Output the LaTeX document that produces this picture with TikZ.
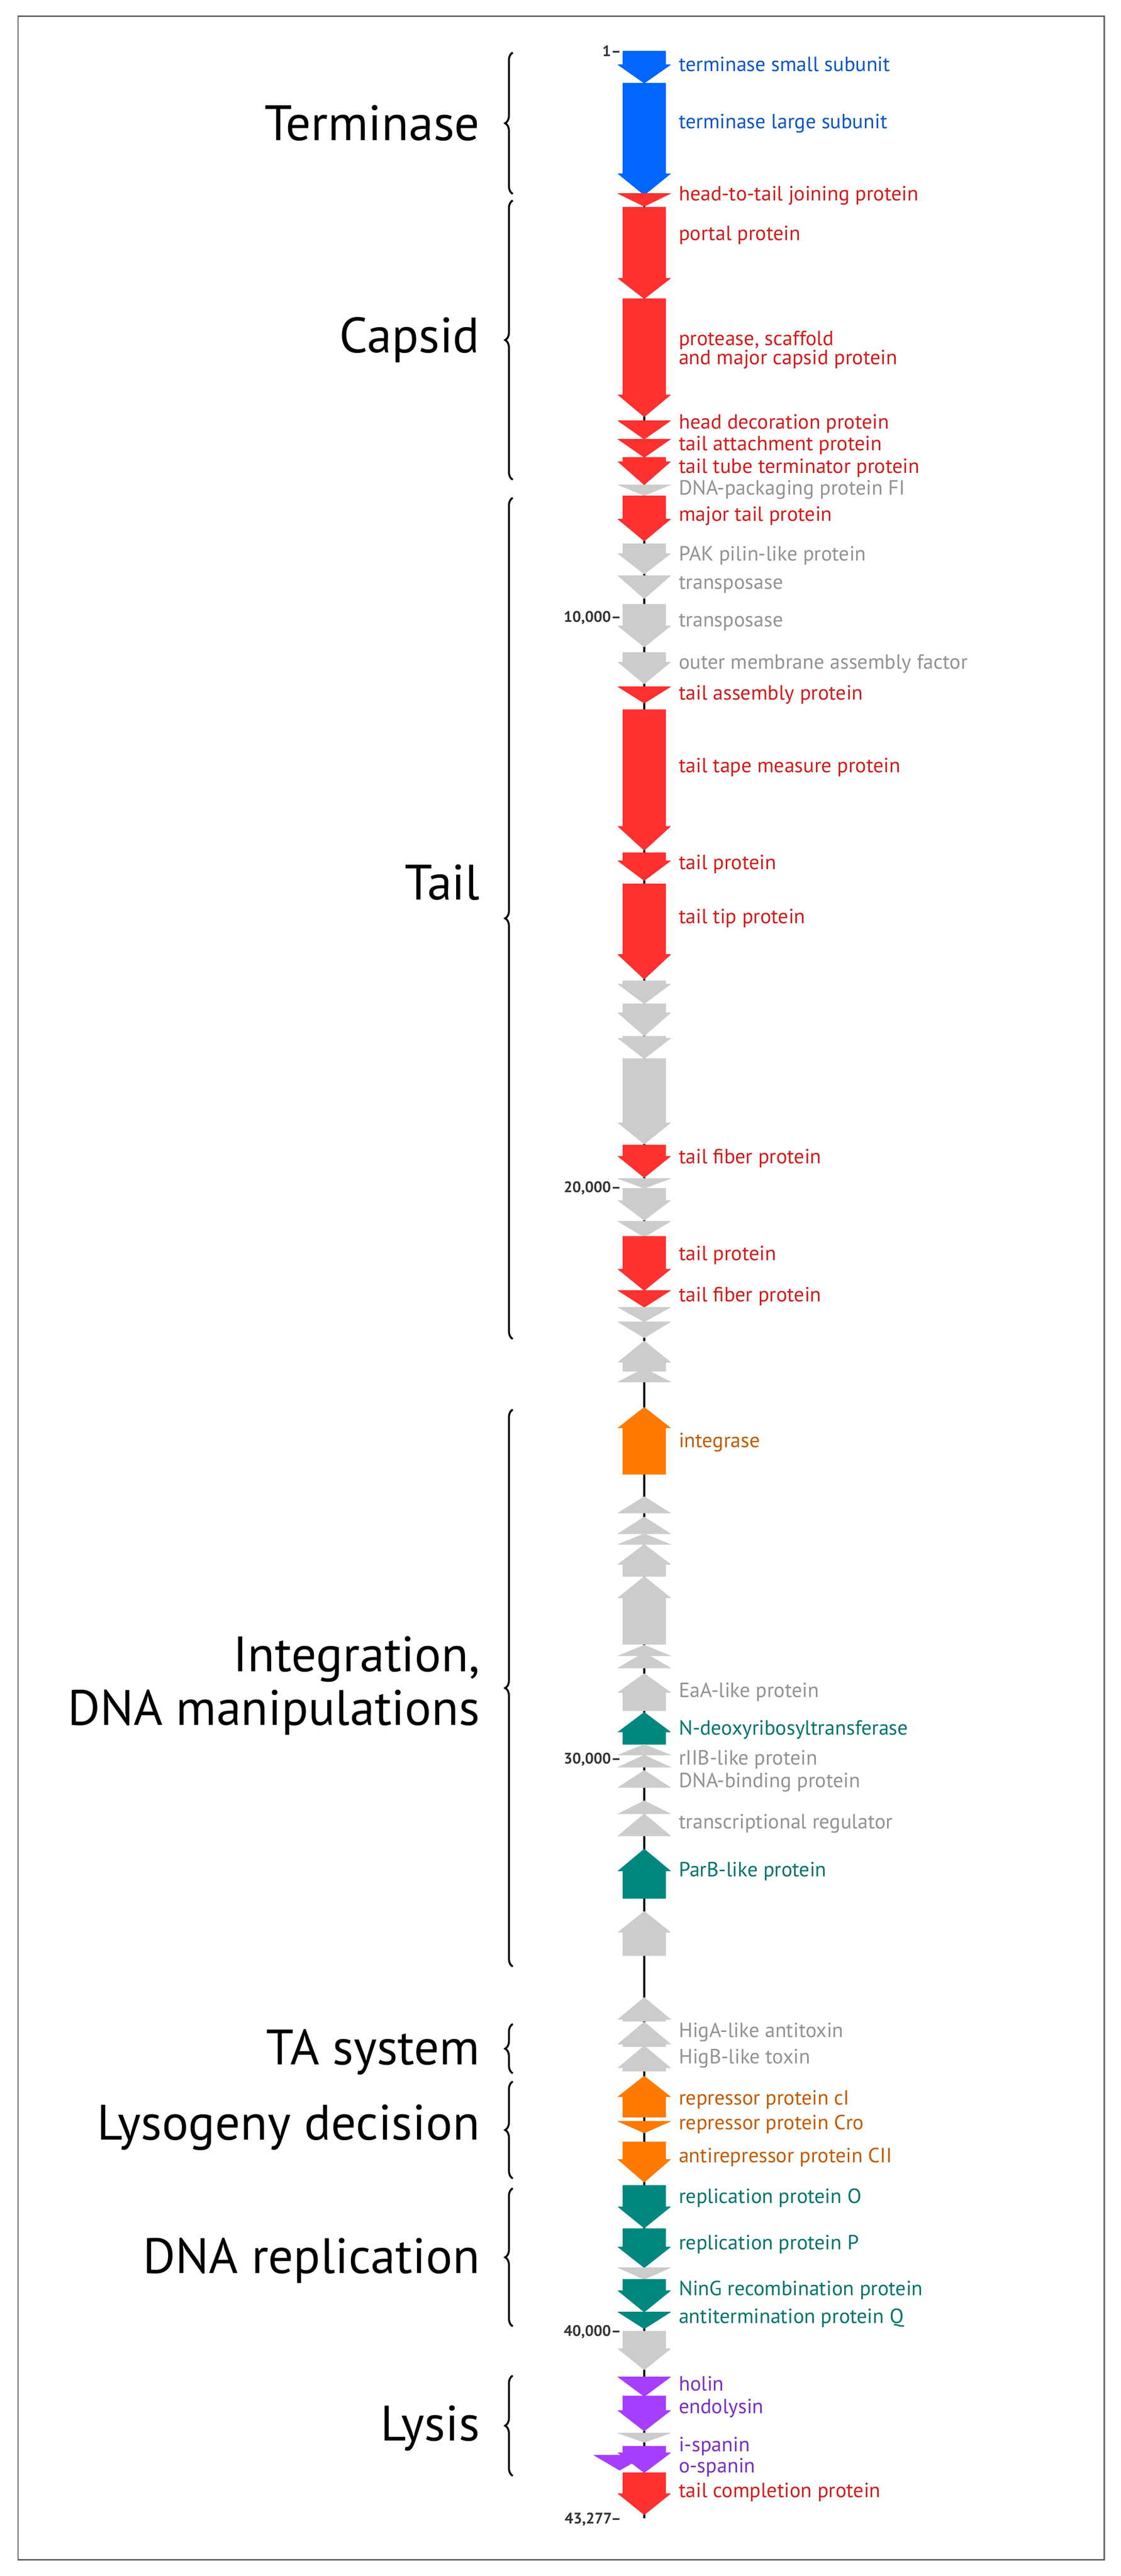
\documentclass[tikz,border=0pt]{standalone}
\usepackage{fontspec}
\setmainfont{PT Sans}
\usetikzlibrary{decorations.pathreplacing}
\definecolor{cblue}{HTML}{0066FF}\definecolor{tblue}{HTML}{0A55C8}
\definecolor{cred}{HTML}{FF3030}\definecolor{tred}{HTML}{D41A1A}
\definecolor{cgray}{HTML}{CCCCCC}\definecolor{tgray}{HTML}{929292}
\definecolor{corange}{HTML}{FF7A00}\definecolor{torange}{HTML}{C25A00}
\definecolor{cteal}{HTML}{00877F}\definecolor{tteal}{HTML}{00736C}
\definecolor{cpurple}{HTML}{A63DFF}\definecolor{tpurple}{HTML}{7A2DC4}
\newcommand\genedown[4]{\filldraw[gene,fill=#4,draw=#4] (379,#1)--(405,#1)--(405,#2)--(408,#2)--(392,#3)--(376,#2)--(379,#2)--cycle;}
\newcommand\geneup[4]{\filldraw[gene,fill=#4,draw=#4] (379,#3)--(405,#3)--(405,#2)--(408,#2)--(392,#1)--(376,#2)--(379,#2)--cycle;}
\begin{document}
\begin{tikzpicture}[x=3.434pt,y=-3.434pt,
  gene/.style={line width=1pt,line join=round},
  lab/.style={anchor=west,inner sep=0pt,font=\fontsize{43}{45}\selectfont},
  cat/.style={anchor=east,inner sep=0pt,align=right,font=\fontsize{104}{112}\selectfont},
  tick/.style={anchor=east,inner sep=0pt,font=\bfseries\fontsize{32}{34}\selectfont,text=black!80},
  br/.style={decorate,decoration={brace,amplitude=16pt},line width=4pt}]
\useasboundingbox (0,0) rectangle (682,1568);
\draw[line width=3pt,black!60] (11,10) rectangle (672,1558);
\draw[line width=4pt] (392,31) coordinate (gstart) -- (392,1533) coordinate (gend);
% genes
\genedown{31.1}{39.4}{50.6}{cblue}
\genedown{50.6}{105.7}{118.7}{cblue}
\genedown{117.8}{117.8}{125.6}{cred}
\genedown{126.1}{169.4}{181.8}{cred}
\genedown{181.8}{240.3}{253.7}{cred}
\genedown{256.1}{256.1}{267.3}{cred}
\genedown{267.3}{267.3}{278.4}{cred}
\genedown{278.4}{281}{295.1}{cred}
\genedown{295.1}{295.1}{301.6}{cgray}
\genedown{301.9}{316}{329.3}{cred}
\genedown{331}{337}{349.4}{cgray}
\genedown{350.4}{350.4}{364.4}{cgray}
\genedown{367.8}{381}{393.8}{cgray}
\genedown{397.2}{403}{416.3}{cgray}
\genedown{418}{418}{428}{cred}
\genedown{432}{503}{517.6}{cred}
\genedown{519}{524}{536}{cred}
\genedown{538}{581}{596}{cred}
\genedown{597}{599}{611}{cgray}
\genedown{611}{616.5}{630.5}{cgray}
\genedown{630.8}{632}{644.4}{cgray}
\genedown{644.4}{683.4}{696.4}{cgray}
\genedown{697}{703.8}{716.8}{cred}
\genedown{717.4}{717.4}{723.3}{cgray}
\genedown{723.3}{730.7}{742.8}{cgray}
\genedown{743.4}{743.4}{753}{cgray}
\genedown{752.6}{772.5}{785.5}{cred}
\genedown{785.5}{785.5}{795.7}{cred}
\genedown{795.7}{795.7}{804.6}{cgray}
\genedown{804.6}{804.6}{814.3}{cgray}
\geneup{816.2}{829.2}{834.7}{cgray}
\geneup{832.9}{841.2}{841.2}{cgray}
\geneup{856.6}{869.2}{897.4}{corange}
\geneup{911}{921}{921}{cgray}
\geneup{923.4}{933.6}{933.6}{cgray}
\geneup{933.6}{940.1}{940.1}{cgray}
\geneup{940.1}{952.2}{959.6}{cgray}
\geneup{959.6}{972.6}{1000.9}{cgray}
\geneup{1001.4}{1007.9}{1007.9}{cgray}
\geneup{1006}{1015.3}{1015.3}{cgray}
\geneup{1018.7}{1030.2}{1041.3}{cgray}
\geneup{1042.3}{1054.3}{1061.8}{cteal}
\geneup{1061.8}{1068.3}{1068.3}{cgray}
\geneup{1068.3}{1075.7}{1075.7}{cgray}
\geneup{1077.6}{1088.1}{1088.1}{cgray}
\geneup{1096.1}{1104.1}{1104.1}{cgray}
\geneup{1104.1}{1117.5}{1117.5}{cgray}
\geneup{1125.5}{1138.9}{1155.6}{cteal}
\geneup{1163.4}{1176.2}{1190.4}{cgray}
\geneup{1215.8}{1229.2}{1230.3}{cgray}
\geneup{1230.8}{1244.2}{1245.7}{cgray}
\geneup{1245.3}{1258.7}{1260.7}{cgray}
\geneup{1263.7}{1276.3}{1288.8}{corange}
\genedown{1291.2}{1291.2}{1298.3}{corange}
\genedown{1303.8}{1314.4}{1328.3}{corange}
\genedown{1330.2}{1343.2}{1356.2}{cteal}
\genedown{1356.6}{1367.7}{1380.3}{cteal}
\genedown{1380.3}{1380.3}{1387.4}{cgray}
\genedown{1387.4}{1394.3}{1407.3}{cteal}
\genedown{1407.3}{1407.3}{1417.5}{cteal}
\genedown{1419}{1429.6}{1442.5}{cgray}
\genedown{1446.8}{1446.8}{1458.7}{cpurple}
\genedown{1458.3}{1467.3}{1479.7}{cpurple}
\genedown{1481}{1481}{1486.6}{cgray}
\genedown{1489}{1493}{1505.1}{cpurple}
\filldraw[gene,fill=cpurple,draw=cpurple] (361.5,1494.5)--(393,1494.5)--(377,1503.6)--cycle;
\genedown{1505.1}{1517.8}{1530.7}{cred}
% ticks
\node[tick] (t1) at (378,31) {1–};
\node[tick] (t10) at (378,376) {10,000–};
\node[tick] (t20) at (378,723.3) {20,000–};
\node[tick] (t30) at (378,1071) {30,000–};
\node[tick] (t40) at (378,1419.3) {40,000–};
\node[tick] (t43) at (378,1533.5) {43,277–};
% gene labels
\begin{scope}[lab]
\node[text=tblue] (l1) at (413,39) {terminase small subunit};
\node[text=tblue] (l2) at (413,75) {terminase large subunit};
\node[text=tred] (l3) at (413,119) {head-to-tail joining protein};
\node[text=tred] (l4) at (413,143) {portal protein};
\node[text=tred,align=left,font=\fontsize{43}{35}\selectfont] (l5) at (413,213) {protease, scaffold\\and major capsid protein};
\node[text=tred] (l6) at (413,258) {head decoration protein};
\node[text=tred] (l7) at (413,271) {tail attachment protein};
\node[text=tred] (l8) at (413,285) {tail tube terminator protein};
\node[text=tgray] (l9) at (413,298) {DNA-packaging protein FI};
\node[text=tred] (l10) at (413,314) {major tail protein};
\node[text=tgray] (l11) at (413,338) {PAK pilin-like protein};
\node[text=tgray] (l12) at (413,356) {transposase};
\node[text=tgray] (l13) at (413,379) {transposase};
\node[text=tgray] (l14) at (413,404) {outer membrane assembly factor};
\node[text=tred] (l15) at (413,423) {tail assembly protein};
\node[text=tred] (l16) at (413,467) {tail tape measure protein};
\node[text=tred] (l17) at (413,526) {tail protein};
\node[text=tred] (l18) at (413,559) {tail tip protein};
\node[text=tred] (l19) at (413,705) {tail fiber protein};
\node[text=tred] (l20) at (413,764) {tail protein};
\node[text=tred] (l21) at (413,789) {tail fiber protein};
\node[text=torange] (l22) at (413,878) {integrase};
\node[text=tgray] (l23) at (413,1030) {EaA-like protein};
\node[text=tteal] (l24) at (413,1053) {N-deoxyribosyltransferase};
\node[text=tgray] (l25) at (413,1071) {rIIB-like protein};
\node[text=tgray] (l26) at (413,1085) {DNA-binding protein};
\node[text=tgray] (l27) at (413,1110) {transcriptional regulator};
\node[text=tteal] (l28) at (413,1139) {ParB-like protein};
\node[text=tgray] (l29) at (413,1237) {HigA-like antitoxin};
\node[text=tgray] (l30) at (413,1253) {HigB-like toxin};
\node[text=torange] (l31) at (413,1278) {repressor protein cI};
\node[text=torange] (l32) at (413,1293) {repressor protein Cro};
\node[text=torange] (l33) at (413,1313) {antirepressor protein CII};
\node[text=tteal] (l34) at (413,1338) {replication protein O};
\node[text=tteal] (l35) at (413,1366) {replication protein P};
\node[text=tteal] (l36) at (413,1394) {NinG recombination protein};
\node[text=tteal] (l37) at (413,1411) {antitermination protein Q};
\node[text=tpurple] (l38) at (413,1451) {holin};
\node[text=tpurple] (l39) at (413,1466) {endolysin};
\node[text=tpurple] (l40) at (413,1489) {i-spanin};
\node[text=tpurple] (l41) at (413,1502) {o-spanin};
\node[text=tred] (l42) at (413,1517) {tail completion protein};
\end{scope}
% braces and categories
\draw[br] (312,118) -- (312,32);
\draw[br] (312,292) -- (312,122);
\draw[br] (312,815) -- (312,303);
\draw[br] (312,1197) -- (312,858);
\draw[br] (312,1262) -- (312,1232);
\draw[br] (312,1326) -- (312,1267);
\draw[br] (312,1416) -- (312,1332);
\draw[br] (312,1507) -- (312,1446);
\node[cat] (c1) at (292,75) {Terminase};
\node[cat] (c2) at (292,207) {Capsid};
\node[cat] (c3) at (292,537) {Tail};
\node[cat] (c4) at (292,1026) {Integration,\\DNA manipulations};
\node[cat] (c5) at (292,1249) {TA system};
\node[cat] (c6) at (292,1295) {Lysogeny decision};
\node[cat] (c7) at (292,1376) {DNA replication};
\node[cat] (c8) at (292,1478) {Lysis};
\end{tikzpicture}
\end{document}
